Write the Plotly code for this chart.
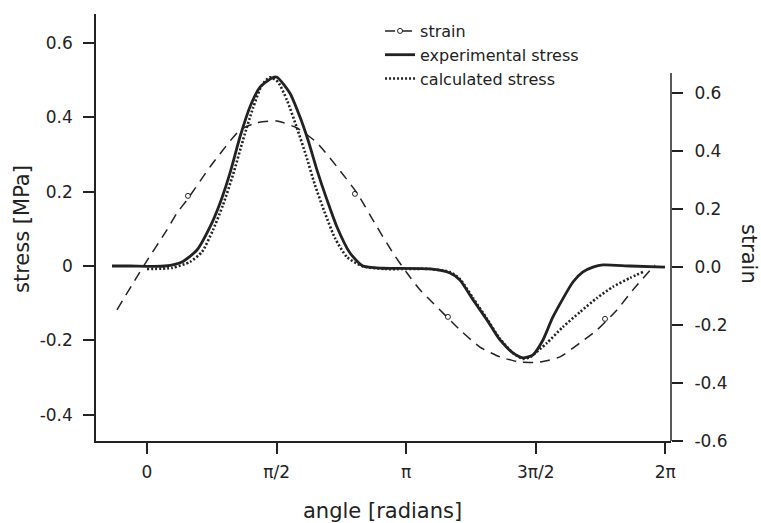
import plotly.graph_objects as go

# ---- data ----
angle_exp = [-0.424, -0.206, 0.218, 0.424, 0.606, 0.764, 0.885, 1.006, 1.127, 1.248, 1.370,
             1.515, 1.576, 1.733, 1.855, 1.952, 2.061, 2.182, 2.303, 2.461, 2.618, 2.861,
             3.430, 3.673, 3.794, 3.952, 4.121, 4.279, 4.436, 4.558, 4.679, 4.800, 4.921,
             5.164, 5.285, 5.406, 5.527, 5.855, 6.279]
stress_exp = [0.0, 0.0, 0.0, 0.011, 0.043, 0.105, 0.169, 0.250, 0.347, 0.428, 0.481,
              0.506, 0.508, 0.465, 0.401, 0.339, 0.258, 0.178, 0.105, 0.035, 0.0, -0.006,
              -0.008, -0.019, -0.038, -0.091, -0.145, -0.199, -0.234, -0.247, -0.239, -0.199, -0.137,
              -0.043, -0.016, -0.003, 0.003, 0.0, -0.003]

angle_calc = [0.0, 0.303, 0.521, 0.667, 0.800, 0.921, 1.042, 1.164, 1.285, 1.394, 1.491,
              1.588, 1.697, 1.818, 1.927, 2.036, 2.158, 2.279, 2.424, 2.606, 2.885, 3.430,
              3.673, 3.794, 3.952, 4.121, 4.279, 4.436, 4.558, 4.642, 4.848, 5.042, 5.248,
              5.455, 5.648, 5.855, 6.012]
stress_calc = [-0.008, -0.005, 0.011, 0.038, 0.097, 0.164, 0.245, 0.339, 0.425, 0.487, 0.508,
               0.495, 0.446, 0.371, 0.298, 0.218, 0.142, 0.075, 0.024, 0.0, -0.008, -0.008,
               -0.016, -0.035, -0.086, -0.142, -0.196, -0.234, -0.250, -0.245, -0.207, -0.164, -0.124,
               -0.086, -0.056, -0.032, -0.016]

angle_strain = [-0.364, -0.048, 0.242, 0.364, 0.485, 0.764, 0.921, 1.127, 1.333, 1.576, 1.818,
                2.061, 2.303, 2.545, 2.788, 2.982, 3.152, 3.309, 3.467, 3.794, 4.036, 4.279,
                4.521, 4.764, 5.006, 5.248, 5.455, 5.697, 5.891, 6.158]
strain = [-0.148, 0.0, 0.128, 0.186, 0.231, 0.345, 0.403, 0.472, 0.497, 0.503, 0.479,
          0.428, 0.345, 0.255, 0.138, 0.048, -0.021, -0.079, -0.124, -0.217, -0.276, -0.310,
          -0.328, -0.328, -0.310, -0.262, -0.217, -0.148, -0.079, 0.007]

angle_marks = [0.497, 2.521, 3.648, 5.552]
strain_marks = [0.245, 0.252, -0.172, -0.179]

x_tickvals = [0, 1.5708, 3.1416, 4.7124, 6.2832]
x_ticktext = ["0", "π/2", "π", "3π/2", "2π"]
y_tickvals = [-0.4, -0.2, 0, 0.2, 0.4, 0.6]
y_ticktext = ["-0.4", "-0.2", "0", "0.2", "0.4", "0.6"]
y2_tickvals = [-0.6, -0.4, -0.2, 0, 0.2, 0.4, 0.6]
y2_ticktext = ["-0.6", "-0.4", "-0.2", "0.0", "0.2", "0.4", "0.6"]

INK = "#222222"
FONT = "DejaVu Sans"
DASH = "10px,7px"

fig = go.Figure()
fig.add_trace(go.Scatter(x=angle_strain, y=strain, yaxis="y2", mode="lines",
                         line=dict(color=INK, width=1.5, dash=DASH, shape="spline", smoothing=0.6),
                         showlegend=False))
fig.add_trace(go.Scatter(x=angle_marks, y=strain_marks, yaxis="y2", mode="markers",
                         marker=dict(symbol="circle-open", size=5, color=INK, line=dict(width=1, color=INK)),
                         showlegend=False))
fig.add_trace(go.Scatter(x=[None], y=[None], mode="lines+markers", name="strain",
                         line=dict(color=INK, width=1.5, dash=DASH),
                         marker=dict(symbol="circle-open", size=5, color=INK, line=dict(width=1, color=INK))))
fig.add_trace(go.Scatter(x=angle_exp, y=stress_exp, mode="lines", name="experimental stress",
                         line=dict(color=INK, width=2.8, shape="spline", smoothing=0.6)))
fig.add_trace(go.Scatter(x=angle_calc, y=stress_calc, mode="lines", name="calculated stress",
                         line=dict(color=INK, width=2.6, dash="2px,2px", shape="spline", smoothing=0.6)))

fig.update_layout(
    width=761, height=523,
    margin=dict(l=96, r=90, t=14, b=82),
    paper_bgcolor="white", plot_bgcolor="white",
    font=dict(family=FONT, size=17, color=INK),
    xaxis=dict(range=[-0.618, 6.352], tickvals=x_tickvals, ticktext=x_ticktext,
               showgrid=False, zeroline=False, showline=True, linecolor=INK, linewidth=1.5,
               ticks="outside", ticklen=11, tickwidth=1.5, tickcolor=INK,
               tickfont=dict(size=17), ticklabelstandoff=4),
    yaxis=dict(range=[-0.4708, 0.678], tickvals=y_tickvals, ticktext=y_ticktext,
               showgrid=False, zeroline=False, showline=True, linecolor=INK, linewidth=1.5,
               ticks="outside", ticklen=11, tickwidth=1.5, tickcolor=INK,
               tickfont=dict(size=17), ticklabelstandoff=7),
    yaxis2=dict(range=[-0.6, 0.872], overlaying="y", side="right",
                tickvals=y2_tickvals, ticktext=y2_ticktext,
                showgrid=False, zeroline=False, showline=False,
                ticks="outside", ticklen=11, tickwidth=1.5, tickcolor=INK,
                tickfont=dict(size=17), ticklabelstandoff=8),
    legend=dict(x=0.494, y=1.0, xanchor="left", yanchor="top", bgcolor="rgba(0,0,0,0)",
                font=dict(size=16), tracegroupgap=0),
    shapes=[dict(type="line", xref="paper", x0=1, x1=1, yref="y2", y0=-0.6, y1=0.669,
                 line=dict(color=INK, width=1.5))],
    annotations=[
        dict(text="angle [radians]", xref="paper", yref="paper", x=0.499, y=-0.164,
             xanchor="center", yanchor="middle", showarrow=False, font=dict(size=21)),
        dict(text="stress [MPa]", xref="paper", yref="paper", x=-0.1287, y=0.4965,
             xanchor="center", yanchor="middle", showarrow=False, textangle=-90, font=dict(size=21)),
        dict(text="strain", xref="paper", yref="paper", x=1.1357, y=0.438,
             xanchor="center", yanchor="middle", showarrow=False, textangle=90, font=dict(size=21)),
    ],
)

fig.write_html("out.html")
